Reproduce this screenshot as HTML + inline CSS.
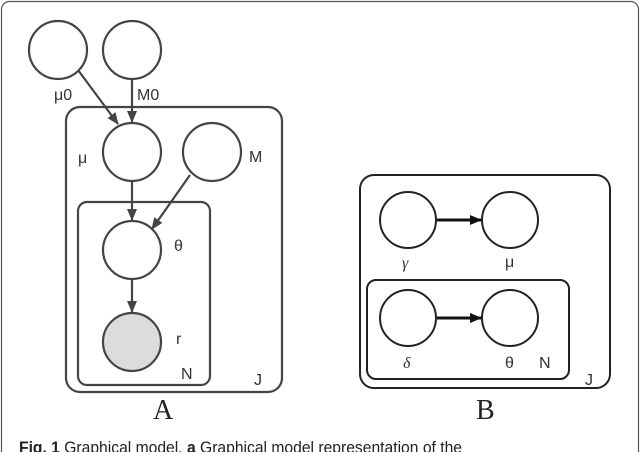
<!DOCTYPE html>
<html><head><meta charset="utf-8"><style>
html,body{margin:0;padding:0;background:#fff;}
svg{display:block;}
</style></head><body>
<svg width="640" height="452" viewBox="0 0 640 452" xmlns="http://www.w3.org/2000/svg">
<defs>
<marker id="ah" markerWidth="12" markerHeight="12" refX="11" refY="6" orient="auto" markerUnits="userSpaceOnUse">
<path d="M0,1 L12,6 L0,11 z" fill="#444"/>
</marker>
<marker id="ahb" markerWidth="12" markerHeight="12" refX="11" refY="6" orient="auto" markerUnits="userSpaceOnUse">
<path d="M0,1 L12,6 L0,11 z" fill="#111"/>
</marker>
</defs>
<rect x="1.5" y="1.5" width="637" height="470" rx="8" fill="#fff" stroke="#555" stroke-width="1.2"/>
<g fill="none" stroke="#444" stroke-width="2.2">
<rect x="66" y="107" width="216" height="285" rx="14"/>
<rect x="78" y="202" width="132" height="183" rx="9"/>
<circle cx="58" cy="50" r="29" fill="#fff"/>
<circle cx="132" cy="50" r="29" fill="#fff"/>
<circle cx="132" cy="152" r="29" fill="#fff"/>
<circle cx="212" cy="152" r="29" fill="#fff"/>
<circle cx="132" cy="250" r="29" fill="#fff"/>
<circle cx="132" cy="342" r="29" fill="#dcdcdc"/>
<line x1="78" y1="70" x2="118" y2="124" marker-end="url(#ah)"/>
<line x1="132" y1="79" x2="132" y2="122" marker-end="url(#ah)"/>
<line x1="132" y1="181" x2="132" y2="220" marker-end="url(#ah)"/>
<line x1="190" y1="175" x2="152" y2="229" marker-end="url(#ah)"/>
<line x1="132" y1="280" x2="132" y2="312" marker-end="url(#ah)"/>
</g>
<g fill="none" stroke="#222" stroke-width="2">
<rect x="360" y="175" width="250" height="213" rx="14"/>
<rect x="367" y="280" width="202" height="99" rx="9"/>
<circle cx="408" cy="220" r="28" fill="#fff"/>
<circle cx="510" cy="220" r="28" fill="#fff"/>
<circle cx="408" cy="318" r="28" fill="#fff"/>
<circle cx="510" cy="318" r="28" fill="#fff"/>
</g>
<g stroke="#111" stroke-width="3">
<line x1="437" y1="220" x2="481" y2="220" marker-end="url(#ahb)"/>
<line x1="437" y1="318" x2="481" y2="318" marker-end="url(#ahb)"/>
</g>
<g font-family="Liberation Sans, DejaVu Sans, sans-serif" font-size="16" fill="#333">
<text x="54" y="100">μ0</text>
<text x="137" y="100">M0</text>
<text x="78" y="163">μ</text>
<text x="249" y="162">M</text>
<text x="174" y="251">θ</text>
<text x="176" y="344">r</text>
<text x="181" y="379">N</text>
<text x="254" y="385">J</text>
<text x="505" y="267">μ</text>
<text x="505" y="368">θ</text>
<text x="539" y="368">N</text>
<text x="585" y="385">J</text>
</g>
<g font-family="Liberation Serif, DejaVu Serif, serif" font-style="italic" font-size="16" fill="#333">
<text x="402" y="268">γ</text>
<text x="403" y="368">δ</text>
</g>
<g font-family="Liberation Serif, serif" font-size="28" fill="#222">
<text x="153" y="419">A</text>
<text x="476" y="419">B</text>
</g>
<text x="19" y="453" font-family="Liberation Sans, sans-serif" font-size="17" fill="#222" textLength="443" lengthAdjust="spacingAndGlyphs"><tspan font-weight="bold">Fig. 1</tspan> Graphical model. <tspan font-weight="bold">a</tspan> Graphical model representation of the</text>
</svg>
</body></html>
